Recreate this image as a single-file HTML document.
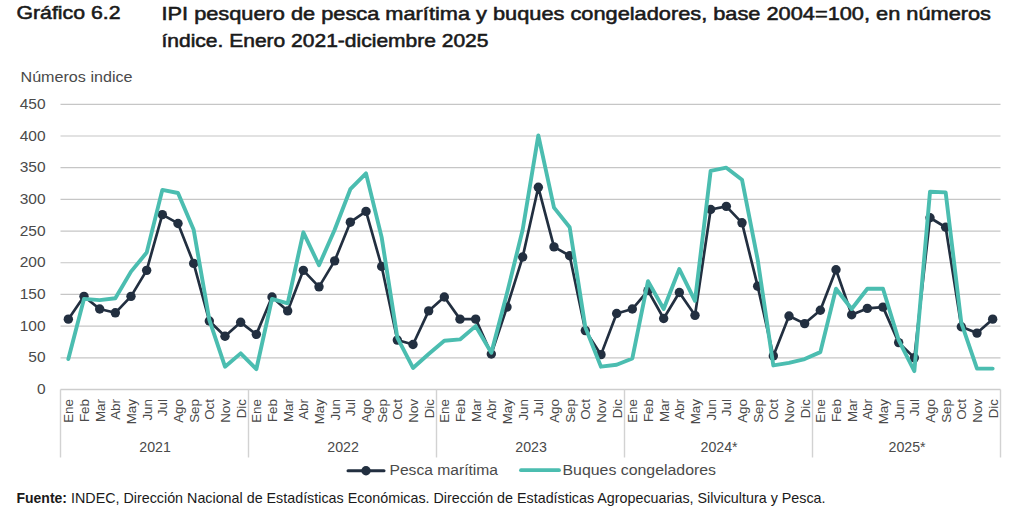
<!DOCTYPE html>
<html><head><meta charset="utf-8"><style>
html,body{margin:0;padding:0;background:#fff;width:1024px;height:514px;overflow:hidden}
svg{position:absolute;left:0;top:0}
text{font-family:"Liberation Sans",sans-serif}
.ax{font-size:15.5px;fill:#4a4a4a}
.mo{font-size:13.4px;fill:#4a4a4a}
.yr{font-size:14.2px;fill:#4a4a4a}
.lg{font-size:14px;fill:#4a4a4a}
.ti{font-size:18.5px;font-weight:normal;fill:#1a1a1a;stroke:#1a1a1a;stroke-width:0.55px}
.yl{font-size:14px;fill:#4a4a4a}
.ft{font-size:14.2px;fill:#1a1a1a}
</style></head><body>
<svg width="1024" height="514" viewBox="0 0 1024 514">
<text x="16.5" y="19.4" class="ti" textLength="104" lengthAdjust="spacingAndGlyphs">Gráfico 6.2</text>
<text x="161.5" y="19.5" class="ti" textLength="829.5" lengthAdjust="spacingAndGlyphs">IPI pesquero de pesca marítima y buques congeladores, base 2004=100, en números</text>
<text x="161.5" y="46.5" class="ti" textLength="327" lengthAdjust="spacingAndGlyphs">índice. Enero 2021-diciembre 2025</text>
<text x="20.5" y="81.6" class="yl" textLength="112" lengthAdjust="spacingAndGlyphs">Números indice</text>
<line x1="60.5" y1="357.81" x2="1000.5" y2="357.81" stroke="#c6c6c6" stroke-width="1.2"/>
<line x1="60.5" y1="326.12" x2="1000.5" y2="326.12" stroke="#c6c6c6" stroke-width="1.2"/>
<line x1="60.5" y1="294.43" x2="1000.5" y2="294.43" stroke="#c6c6c6" stroke-width="1.2"/>
<line x1="60.5" y1="262.74" x2="1000.5" y2="262.74" stroke="#c6c6c6" stroke-width="1.2"/>
<line x1="60.5" y1="231.06" x2="1000.5" y2="231.06" stroke="#c6c6c6" stroke-width="1.2"/>
<line x1="60.5" y1="199.37" x2="1000.5" y2="199.37" stroke="#c6c6c6" stroke-width="1.2"/>
<line x1="60.5" y1="167.68" x2="1000.5" y2="167.68" stroke="#c6c6c6" stroke-width="1.2"/>
<line x1="60.5" y1="135.99" x2="1000.5" y2="135.99" stroke="#c6c6c6" stroke-width="1.2"/>
<line x1="60.5" y1="104.30" x2="1000.5" y2="104.30" stroke="#c6c6c6" stroke-width="1.2"/>
<text x="45.6" y="394.10" text-anchor="end" class="ax">0</text>
<text x="45.6" y="362.41" text-anchor="end" class="ax">50</text>
<text x="45.6" y="330.72" text-anchor="end" class="ax">100</text>
<text x="45.6" y="299.03" text-anchor="end" class="ax">150</text>
<text x="45.6" y="267.34" text-anchor="end" class="ax">200</text>
<text x="45.6" y="235.66" text-anchor="end" class="ax">250</text>
<text x="45.6" y="203.97" text-anchor="end" class="ax">300</text>
<text x="45.6" y="172.28" text-anchor="end" class="ax">350</text>
<text x="45.6" y="140.59" text-anchor="end" class="ax">400</text>
<text x="45.6" y="108.90" text-anchor="end" class="ax">450</text>
<line x1="60.5" y1="389.5" x2="1000.5" y2="389.5" stroke="#cdcdcd" stroke-width="1.4"/>
<line x1="60.50" y1="389.5" x2="60.50" y2="457.5" stroke="#d2d2d2" stroke-width="1.4"/>
<line x1="248.50" y1="389.5" x2="248.50" y2="457.5" stroke="#d2d2d2" stroke-width="1.4"/>
<line x1="436.50" y1="389.5" x2="436.50" y2="457.5" stroke="#d2d2d2" stroke-width="1.4"/>
<line x1="624.50" y1="389.5" x2="624.50" y2="457.5" stroke="#d2d2d2" stroke-width="1.4"/>
<line x1="812.50" y1="389.5" x2="812.50" y2="457.5" stroke="#d2d2d2" stroke-width="1.4"/>
<line x1="1000.50" y1="389.5" x2="1000.50" y2="457.5" stroke="#d2d2d2" stroke-width="1.4"/>
<text transform="translate(73.23,399) rotate(-90)" text-anchor="end" class="mo">Ene</text>
<text transform="translate(88.90,399) rotate(-90)" text-anchor="end" class="mo">Feb</text>
<text transform="translate(104.57,399) rotate(-90)" text-anchor="end" class="mo">Mar</text>
<text transform="translate(120.23,399) rotate(-90)" text-anchor="end" class="mo">Abr</text>
<text transform="translate(135.90,399) rotate(-90)" text-anchor="end" class="mo">May</text>
<text transform="translate(151.57,399) rotate(-90)" text-anchor="end" class="mo">Jun</text>
<text transform="translate(167.23,399) rotate(-90)" text-anchor="end" class="mo">Jul</text>
<text transform="translate(182.90,399) rotate(-90)" text-anchor="end" class="mo">Ago</text>
<text transform="translate(198.57,399) rotate(-90)" text-anchor="end" class="mo">Sep</text>
<text transform="translate(214.23,399) rotate(-90)" text-anchor="end" class="mo">Oct</text>
<text transform="translate(229.90,399) rotate(-90)" text-anchor="end" class="mo">Nov</text>
<text transform="translate(245.57,399) rotate(-90)" text-anchor="end" class="mo">Dic</text>
<text transform="translate(261.23,399) rotate(-90)" text-anchor="end" class="mo">Ene</text>
<text transform="translate(276.90,399) rotate(-90)" text-anchor="end" class="mo">Feb</text>
<text transform="translate(292.57,399) rotate(-90)" text-anchor="end" class="mo">Mar</text>
<text transform="translate(308.23,399) rotate(-90)" text-anchor="end" class="mo">Abr</text>
<text transform="translate(323.90,399) rotate(-90)" text-anchor="end" class="mo">May</text>
<text transform="translate(339.57,399) rotate(-90)" text-anchor="end" class="mo">Jun</text>
<text transform="translate(355.23,399) rotate(-90)" text-anchor="end" class="mo">Jul</text>
<text transform="translate(370.90,399) rotate(-90)" text-anchor="end" class="mo">Ago</text>
<text transform="translate(386.57,399) rotate(-90)" text-anchor="end" class="mo">Sep</text>
<text transform="translate(402.23,399) rotate(-90)" text-anchor="end" class="mo">Oct</text>
<text transform="translate(417.90,399) rotate(-90)" text-anchor="end" class="mo">Nov</text>
<text transform="translate(433.57,399) rotate(-90)" text-anchor="end" class="mo">Dic</text>
<text transform="translate(449.23,399) rotate(-90)" text-anchor="end" class="mo">Ene</text>
<text transform="translate(464.90,399) rotate(-90)" text-anchor="end" class="mo">Feb</text>
<text transform="translate(480.57,399) rotate(-90)" text-anchor="end" class="mo">Mar</text>
<text transform="translate(496.23,399) rotate(-90)" text-anchor="end" class="mo">Abr</text>
<text transform="translate(511.90,399) rotate(-90)" text-anchor="end" class="mo">May</text>
<text transform="translate(527.57,399) rotate(-90)" text-anchor="end" class="mo">Jun</text>
<text transform="translate(543.23,399) rotate(-90)" text-anchor="end" class="mo">Jul</text>
<text transform="translate(558.90,399) rotate(-90)" text-anchor="end" class="mo">Ago</text>
<text transform="translate(574.57,399) rotate(-90)" text-anchor="end" class="mo">Sep</text>
<text transform="translate(590.23,399) rotate(-90)" text-anchor="end" class="mo">Oct</text>
<text transform="translate(605.90,399) rotate(-90)" text-anchor="end" class="mo">Nov</text>
<text transform="translate(621.57,399) rotate(-90)" text-anchor="end" class="mo">Dic</text>
<text transform="translate(637.23,399) rotate(-90)" text-anchor="end" class="mo">Ene</text>
<text transform="translate(652.90,399) rotate(-90)" text-anchor="end" class="mo">Feb</text>
<text transform="translate(668.57,399) rotate(-90)" text-anchor="end" class="mo">Mar</text>
<text transform="translate(684.23,399) rotate(-90)" text-anchor="end" class="mo">Abr</text>
<text transform="translate(699.90,399) rotate(-90)" text-anchor="end" class="mo">May</text>
<text transform="translate(715.57,399) rotate(-90)" text-anchor="end" class="mo">Jun</text>
<text transform="translate(731.23,399) rotate(-90)" text-anchor="end" class="mo">Jul</text>
<text transform="translate(746.90,399) rotate(-90)" text-anchor="end" class="mo">Ago</text>
<text transform="translate(762.57,399) rotate(-90)" text-anchor="end" class="mo">Sep</text>
<text transform="translate(778.23,399) rotate(-90)" text-anchor="end" class="mo">Oct</text>
<text transform="translate(793.90,399) rotate(-90)" text-anchor="end" class="mo">Nov</text>
<text transform="translate(809.57,399) rotate(-90)" text-anchor="end" class="mo">Dic</text>
<text transform="translate(825.23,399) rotate(-90)" text-anchor="end" class="mo">Ene</text>
<text transform="translate(840.90,399) rotate(-90)" text-anchor="end" class="mo">Feb</text>
<text transform="translate(856.57,399) rotate(-90)" text-anchor="end" class="mo">Mar</text>
<text transform="translate(872.23,399) rotate(-90)" text-anchor="end" class="mo">Abr</text>
<text transform="translate(887.90,399) rotate(-90)" text-anchor="end" class="mo">May</text>
<text transform="translate(903.57,399) rotate(-90)" text-anchor="end" class="mo">Jun</text>
<text transform="translate(919.23,399) rotate(-90)" text-anchor="end" class="mo">Jul</text>
<text transform="translate(934.90,399) rotate(-90)" text-anchor="end" class="mo">Ago</text>
<text transform="translate(950.57,399) rotate(-90)" text-anchor="end" class="mo">Sep</text>
<text transform="translate(966.23,399) rotate(-90)" text-anchor="end" class="mo">Oct</text>
<text transform="translate(981.90,399) rotate(-90)" text-anchor="end" class="mo">Nov</text>
<text transform="translate(997.57,399) rotate(-90)" text-anchor="end" class="mo">Dic</text>
<text x="155.10" y="452" text-anchor="middle" class="yr">2021</text>
<text x="343.10" y="452" text-anchor="middle" class="yr">2022</text>
<text x="531.10" y="452" text-anchor="middle" class="yr">2023</text>
<text x="719.10" y="452" text-anchor="middle" class="yr">2024*</text>
<text x="907.10" y="452" text-anchor="middle" class="yr">2025*</text>
<polyline points="68.33,319.15 84.00,296.33 99.67,309.01 115.33,312.81 131.00,296.33 146.67,270.35 162.33,214.58 178.00,223.45 193.67,263.38 209.33,321.05 225.00,336.26 240.67,322.32 256.33,334.36 272.00,296.97 287.67,310.91 303.33,270.35 319.00,286.83 334.67,260.84 350.33,222.18 366.00,211.41 381.67,266.55 397.33,340.07 413.00,344.50 428.67,310.91 444.33,296.97 460.00,319.15 475.67,319.15 491.33,354.01 507.00,307.11 522.67,257.04 538.33,187.32 554.00,246.90 569.67,255.77 585.33,330.56 601.00,354.64 616.67,313.45 632.33,309.01 648.00,290.63 663.67,318.52 679.33,292.53 695.00,315.35 710.67,209.51 726.33,206.34 742.00,222.82 757.67,286.19 773.33,355.91 789.00,315.98 804.67,323.59 820.33,310.28 836.00,269.72 851.67,314.71 867.33,308.38 883.00,307.11 898.67,342.60 914.33,357.81 930.00,217.75 945.67,227.25 961.33,326.76 977.00,333.09 992.67,319.15" fill="none" stroke="#222f40" stroke-width="2.7" stroke-linejoin="round"/>
<circle cx="68.33" cy="319.15" r="4.7" fill="#222f40"/>
<circle cx="84.00" cy="296.33" r="4.7" fill="#222f40"/>
<circle cx="99.67" cy="309.01" r="4.7" fill="#222f40"/>
<circle cx="115.33" cy="312.81" r="4.7" fill="#222f40"/>
<circle cx="131.00" cy="296.33" r="4.7" fill="#222f40"/>
<circle cx="146.67" cy="270.35" r="4.7" fill="#222f40"/>
<circle cx="162.33" cy="214.58" r="4.7" fill="#222f40"/>
<circle cx="178.00" cy="223.45" r="4.7" fill="#222f40"/>
<circle cx="193.67" cy="263.38" r="4.7" fill="#222f40"/>
<circle cx="209.33" cy="321.05" r="4.7" fill="#222f40"/>
<circle cx="225.00" cy="336.26" r="4.7" fill="#222f40"/>
<circle cx="240.67" cy="322.32" r="4.7" fill="#222f40"/>
<circle cx="256.33" cy="334.36" r="4.7" fill="#222f40"/>
<circle cx="272.00" cy="296.97" r="4.7" fill="#222f40"/>
<circle cx="287.67" cy="310.91" r="4.7" fill="#222f40"/>
<circle cx="303.33" cy="270.35" r="4.7" fill="#222f40"/>
<circle cx="319.00" cy="286.83" r="4.7" fill="#222f40"/>
<circle cx="334.67" cy="260.84" r="4.7" fill="#222f40"/>
<circle cx="350.33" cy="222.18" r="4.7" fill="#222f40"/>
<circle cx="366.00" cy="211.41" r="4.7" fill="#222f40"/>
<circle cx="381.67" cy="266.55" r="4.7" fill="#222f40"/>
<circle cx="397.33" cy="340.07" r="4.7" fill="#222f40"/>
<circle cx="413.00" cy="344.50" r="4.7" fill="#222f40"/>
<circle cx="428.67" cy="310.91" r="4.7" fill="#222f40"/>
<circle cx="444.33" cy="296.97" r="4.7" fill="#222f40"/>
<circle cx="460.00" cy="319.15" r="4.7" fill="#222f40"/>
<circle cx="475.67" cy="319.15" r="4.7" fill="#222f40"/>
<circle cx="491.33" cy="354.01" r="4.7" fill="#222f40"/>
<circle cx="507.00" cy="307.11" r="4.7" fill="#222f40"/>
<circle cx="522.67" cy="257.04" r="4.7" fill="#222f40"/>
<circle cx="538.33" cy="187.32" r="4.7" fill="#222f40"/>
<circle cx="554.00" cy="246.90" r="4.7" fill="#222f40"/>
<circle cx="569.67" cy="255.77" r="4.7" fill="#222f40"/>
<circle cx="585.33" cy="330.56" r="4.7" fill="#222f40"/>
<circle cx="601.00" cy="354.64" r="4.7" fill="#222f40"/>
<circle cx="616.67" cy="313.45" r="4.7" fill="#222f40"/>
<circle cx="632.33" cy="309.01" r="4.7" fill="#222f40"/>
<circle cx="648.00" cy="290.63" r="4.7" fill="#222f40"/>
<circle cx="663.67" cy="318.52" r="4.7" fill="#222f40"/>
<circle cx="679.33" cy="292.53" r="4.7" fill="#222f40"/>
<circle cx="695.00" cy="315.35" r="4.7" fill="#222f40"/>
<circle cx="710.67" cy="209.51" r="4.7" fill="#222f40"/>
<circle cx="726.33" cy="206.34" r="4.7" fill="#222f40"/>
<circle cx="742.00" cy="222.82" r="4.7" fill="#222f40"/>
<circle cx="757.67" cy="286.19" r="4.7" fill="#222f40"/>
<circle cx="773.33" cy="355.91" r="4.7" fill="#222f40"/>
<circle cx="789.00" cy="315.98" r="4.7" fill="#222f40"/>
<circle cx="804.67" cy="323.59" r="4.7" fill="#222f40"/>
<circle cx="820.33" cy="310.28" r="4.7" fill="#222f40"/>
<circle cx="836.00" cy="269.72" r="4.7" fill="#222f40"/>
<circle cx="851.67" cy="314.71" r="4.7" fill="#222f40"/>
<circle cx="867.33" cy="308.38" r="4.7" fill="#222f40"/>
<circle cx="883.00" cy="307.11" r="4.7" fill="#222f40"/>
<circle cx="898.67" cy="342.60" r="4.7" fill="#222f40"/>
<circle cx="914.33" cy="357.81" r="4.7" fill="#222f40"/>
<circle cx="930.00" cy="217.75" r="4.7" fill="#222f40"/>
<circle cx="945.67" cy="227.25" r="4.7" fill="#222f40"/>
<circle cx="961.33" cy="326.76" r="4.7" fill="#222f40"/>
<circle cx="977.00" cy="333.09" r="4.7" fill="#222f40"/>
<circle cx="992.67" cy="319.15" r="4.7" fill="#222f40"/>
<polyline points="68.33,359.08 84.00,298.87 99.67,300.14 115.33,298.24 131.00,271.62 146.67,252.60 162.33,189.86 178.00,193.03 193.67,229.79 209.33,319.78 225.00,366.68 240.67,353.37 256.33,369.22 272.00,298.87 287.67,303.31 303.33,232.32 319.00,265.28 334.67,229.79 350.33,189.23 366.00,173.38 381.67,237.39 397.33,337.53 413.00,367.95 428.67,354.01 444.33,340.70 460.00,339.43 475.67,326.12 491.33,352.74 507.00,293.17 522.67,229.79 538.33,135.36 554.00,207.61 569.67,227.25 585.33,327.39 601.00,366.68 616.67,364.78 632.33,358.44 648.00,281.12 663.67,309.01 679.33,269.08 695.00,300.77 710.67,170.85 726.33,167.68 742.00,179.72 757.67,259.58 773.33,365.42 789.00,362.88 804.67,359.08 820.33,352.11 836.00,288.73 851.67,309.01 867.33,288.73 883.00,288.73 898.67,340.07 914.33,371.12 930.00,191.76 945.67,192.40 961.33,322.95 977.00,368.59 992.67,368.59" fill="none" stroke="#4bbdb0" stroke-width="3.9" stroke-linejoin="round" stroke-linecap="round"/>
<line x1="348" y1="470.8" x2="384" y2="470.8" stroke="#222f40" stroke-width="3" stroke-linecap="round"/>
<circle cx="366" cy="470.8" r="4.7" fill="#222f40"/>
<text x="389.5" y="474.8" class="lg" textLength="108.5" lengthAdjust="spacingAndGlyphs">Pesca marítima</text>
<line x1="521" y1="470.2" x2="559" y2="470.2" stroke="#4bbdb0" stroke-width="3.8" stroke-linecap="round"/>
<text x="562.5" y="474.8" class="lg" textLength="153.5" lengthAdjust="spacingAndGlyphs">Buques congeladores</text>
<text x="16.5" y="502.8" class="ft" font-weight="bold" textLength="50.5" lengthAdjust="spacingAndGlyphs">Fuente:</text>
<text x="71" y="502.8" class="ft" textLength="754.5" lengthAdjust="spacingAndGlyphs">INDEC, Dirección Nacional de Estadísticas Económicas. Dirección de Estadísticas Agropecuarias, Silvicultura y Pesca.</text>
</svg>
</body></html>
